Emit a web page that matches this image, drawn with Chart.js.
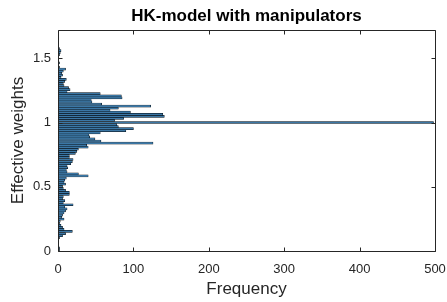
<!DOCTYPE html>
<html>
<head>
<meta charset="utf-8">
<script src="https://cdn.jsdelivr.net/npm/chart.js@4/dist/chart.umd.min.js"></script>
<style>
  html, body { margin: 0; padding: 0; background: #fff; }
  #wrap { width: 447px; height: 302px; }
</style>
</head>
<body>
<div id="wrap"><canvas id="histChart"></canvas></div>
<script>
// bin centres of the "Effective weights" histogram (bin width 0.016)
const binCenters = [
  0.008, 0.024, 0.040, 0.056, 0.072, 0.088, 0.104, 0.120, 0.136, 0.152,
  0.168, 0.184, 0.200, 0.216, 0.232, 0.248, 0.264, 0.280, 0.296, 0.312,
  0.328, 0.344, 0.360, 0.376, 0.392, 0.408, 0.424, 0.440, 0.456, 0.472,
  0.488, 0.504, 0.520, 0.536, 0.552, 0.568, 0.584, 0.600, 0.616, 0.632,
  0.648, 0.664, 0.680, 0.696, 0.712, 0.728, 0.744, 0.760, 0.776, 0.792,
  0.808, 0.824, 0.840, 0.856, 0.872, 0.888, 0.904, 0.920, 0.936, 0.952,
  0.968, 0.984, 1.000, 1.016, 1.032, 1.048, 1.064, 1.080, 1.096, 1.112,
  1.128, 1.144, 1.160, 1.176, 1.192, 1.208, 1.224, 1.240, 1.256, 1.272,
  1.288, 1.304, 1.320, 1.336, 1.352, 1.368, 1.384, 1.400, 1.416, 1.432,
  1.448, 1.464, 1.480, 1.496, 1.512, 1.528, 1.544, 1.560, 1.576, 1.592,
  1.608, 1.624, 1.640, 1.656
];

const frequencies = [
  2, 2, 1, 0, 1, 1, 2, 6, 10, 19,
  8, 6, 4, 2, 3, 8, 5, 6, 8, 10,
  12, 9, 20, 7, 9, 6, 7, 15, 15, 10,
  7, 6, 10, 8, 9, 11, 40, 27, 12, 11,
  13, 12, 17, 19, 20, 15, 15, 23, 25, 27,
  40, 38, 126, 57, 49, 42, 41, 56, 90, 100,
  80, 78, 498, 75, 87, 141, 139, 96, 69, 80,
  123, 58, 45, 44, 85, 84, 56, 12, 16, 14,
  8, 7, 9, 11, 4, 6, 5, 7, 10, 2,
  1, 2, 1, 1, 1, 2, 3, 4, 2, 1,
  1, 0, 1, 1
];

const xTicks = [0, 100, 200, 300, 400, 500];
const yTicks = [0, 0.5, 1, 1.5];

const FONT = "'Liberation Sans', Arial, Helvetica, sans-serif";
const AXIS_COLOR = '#262626';

// matlab style: box round the axes, ticks pointing inwards, title over the plot area
const matlabAxes = {
    id: 'matlabAxes',
    afterDatasetsDraw(chart) {
        const { ctx, chartArea: a, scales: { x, y } } = chart;
        ctx.save();
        ctx.strokeStyle = AXIS_COLOR;
        ctx.lineWidth = 1;
        ctx.beginPath();
        const L = Math.round(a.left) + 0.5, R = Math.round(a.right) + 0.5;
        const T = Math.round(a.top) + 0.5, B = Math.round(a.bottom) + 0.5;
        ctx.rect(L, T, R - L, B - T);
        xTicks.forEach(v => {
            const px = Math.round(x.getPixelForValue(v)) + 0.5;
            ctx.moveTo(px, B); ctx.lineTo(px, B - 4);
            ctx.moveTo(px, T); ctx.lineTo(px, T + 4);
        });
        yTicks.forEach(v => {
            const py = Math.round(y.getPixelForValue(v)) + 0.5;
            ctx.moveTo(L, py); ctx.lineTo(L + 4, py);
            ctx.moveTo(R, py); ctx.lineTo(R - 4, py);
        });
        ctx.stroke();

        ctx.fillStyle = '#000';
        ctx.font = `bold 17px ${FONT}`;
        ctx.textAlign = 'center';
        ctx.textBaseline = 'middle';
        ctx.fillText('HK-model with manipulators', (a.left + a.right) / 2, 16);
        ctx.restore();
    }
};

const ctx = document.getElementById('histChart').getContext('2d');
new Chart(ctx, {
    type: 'bar',
    data: {
        datasets: [{
            data: binCenters.map((c, i) => ({ x: frequencies[i], y: c })),
            backgroundColor: '#3b77a5',
            borderColor: '#000',
            borderWidth: 0.5,
            barPercentage: 1,
            categoryPercentage: 1
        }]
    },
    options: {
        indexAxis: 'y',
        responsive: true,
        maintainAspectRatio: false,
        animation: false,
        layout: { padding: { top: 30, right: 12, left: 0, bottom: 0 } },
        plugins: {
            legend: { display: false },
            tooltip: { enabled: false }
        },
        scales: {
            x: {
                type: 'linear',
                min: 0,
                max: 500,
                grid: { display: false, drawTicks: false },
                border: { display: false },
                afterBuildTicks: s => { s.ticks = xTicks.map(v => ({ value: v })); },
                afterFit: s => { s.height = 51; s.paddingLeft = 0; s.paddingRight = 0; },
                ticks: { color: AXIS_COLOR, padding: 11, font: { family: FONT, size: 13 } },
                title: {
                    display: true,
                    text: 'Frequency',
                    color: AXIS_COLOR,
                    font: { family: FONT, size: 17 },
                    padding: { top: 2, bottom: 2 }
                }
            },
            y: {
                type: 'linear',
                min: 0,
                max: 1.72,
                offset: false,
                grid: { display: false, drawTicks: false, offset: false },
                border: { display: false },
                afterBuildTicks: s => { s.ticks = yTicks.map(v => ({ value: v })); },
                afterFit: s => { s.width = 58; s.paddingTop = 0; s.paddingBottom = 0; },
                ticks: {
                    color: AXIS_COLOR, padding: 7, font: { family: FONT, size: 13 },
                    callback: v => String(v)
                },
                title: {
                    display: true,
                    text: 'Effective weights',
                    color: AXIS_COLOR,
                    font: { family: FONT, size: 17 },
                    padding: { top: 8, bottom: 2 }
                }
            }
        }
    },
    plugins: [matlabAxes]
});
</script>
</body>
</html>
